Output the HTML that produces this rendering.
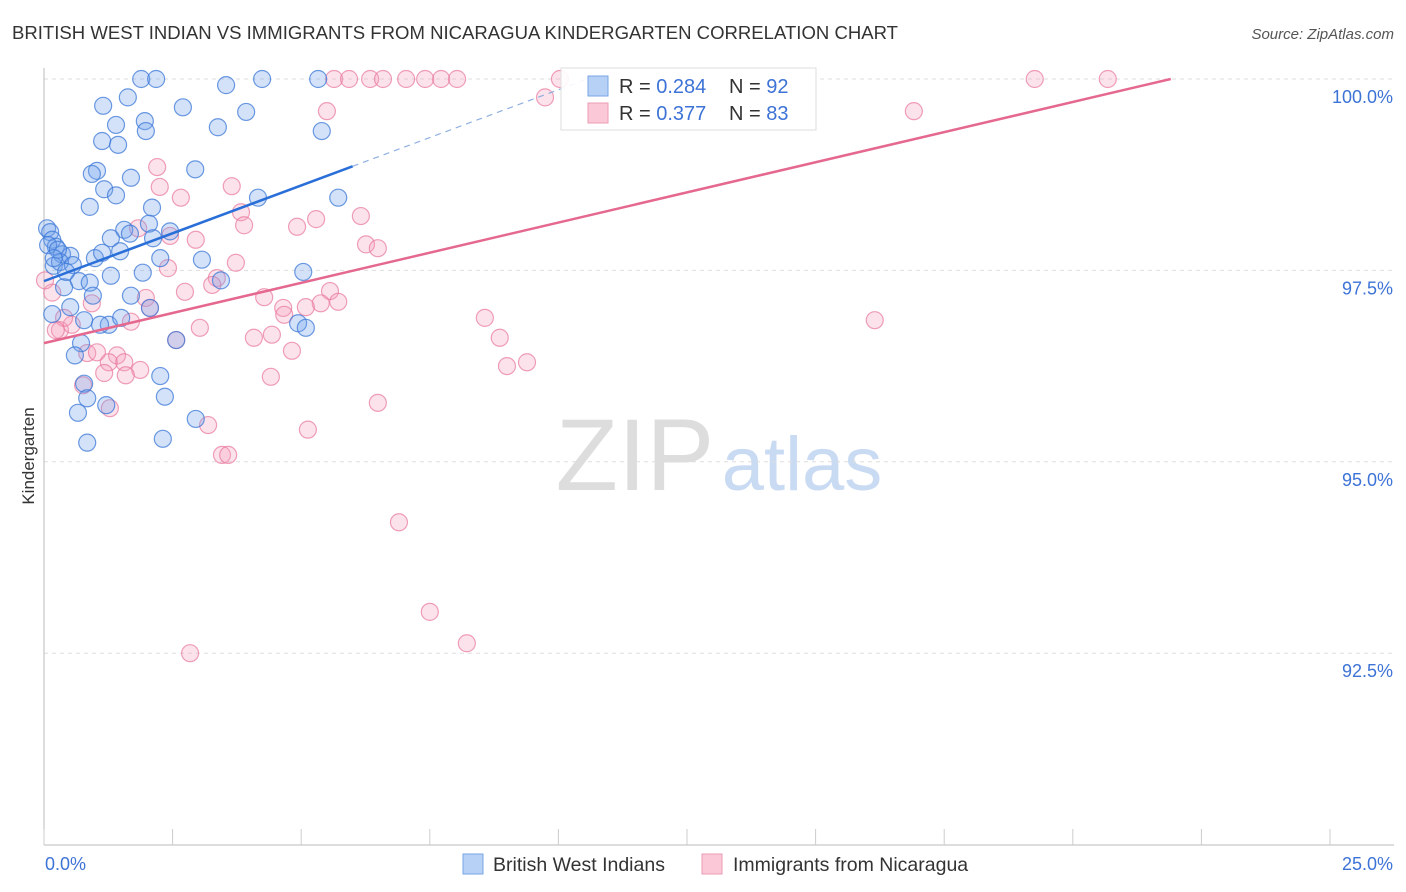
<!DOCTYPE html>
<html><head><meta charset="utf-8"><style>
body{margin:0;background:#fff;font-family:"Liberation Sans",sans-serif;}
#wrap{position:relative;width:1406px;height:892px;overflow:hidden;}
svg text{font-family:"Liberation Sans",sans-serif;}
</style></head><body>
<div id="wrap">
<svg id="chart" width="1406" height="892">
<text x="12" y="39" font-size="18.5" fill="#333" textLength="886" lengthAdjust="spacingAndGlyphs">BRITISH WEST INDIAN VS IMMIGRANTS FROM NICARAGUA KINDERGARTEN CORRELATION CHART</text>
<text x="1394" y="39" font-size="15" fill="#555" font-style="italic" text-anchor="end">Source: ZipAtlas.com</text>
<text x="0" y="0" transform="translate(34,456) rotate(-90)" font-size="17" fill="#333" text-anchor="middle">Kindergarten</text>
<g>
<text x="635" y="490" font-size="102" fill="#ddd" text-anchor="middle" font-family="Liberation Serif">ZIP</text>
<text x="802" y="490" font-size="76" fill="#c9daf3" text-anchor="middle">atlas</text>
</g>
<g id="grid"></g><g id="axes"></g><g id="marks"></g><g id="lines"></g>
<g>
<rect x="561" y="68" width="255" height="62" fill="#fff" fill-opacity="0.9" stroke="#ddd"/>
<rect x="588" y="76" width="20" height="20" fill="#b7d0f5" stroke="#7aa6e6"/>
<text x="619" y="93" font-size="20" fill="#333">R = <tspan fill="#3d73d6">0.284</tspan></text>
<text x="729" y="93" font-size="20" fill="#333">N = <tspan fill="#3d73d6">92</tspan></text>
<rect x="588" y="103" width="20" height="20" fill="#fbc8d7" stroke="#ee9cb5"/>
<text x="619" y="120" font-size="20" fill="#333">R = <tspan fill="#3d73d6">0.377</tspan></text>
<text x="729" y="120" font-size="20" fill="#333">N = <tspan fill="#3d73d6">83</tspan></text>
</g>
<g>
<rect x="463" y="854" width="20" height="20" fill="#b7d0f5" stroke="#7aa6e6"/>
<text x="493" y="871" font-size="19.5" fill="#333">British West Indians</text>
<rect x="702" y="854" width="20" height="20" fill="#fbc8d7" stroke="#ee9cb5"/>
<text x="733" y="871" font-size="19.5" fill="#333">Immigrants from Nicaragua</text>
</g>
</svg>
</div>
<script>
const blueX=[1.89,2.18,3.54,4.24,5.33,1.15,1.63,2.70,3.93,1.40,1.96,3.38,5.40,1.13,1.44,1.98,1.03,0.93,2.94,1.69,1.17,1.40,0.89,2.10,4.16,5.72,2.04,1.56,1.30,1.67,2.12,2.45,0.06,0.12,0.16,0.23,0.35,0.51,0.19,0.31,0.56,0.99,1.13,1.48,2.26,3.07,1.92,1.30,0.68,0.39,0.89,3.44,5.04,1.69,0.95,0.51,0.16,0.78,1.26,1.50,2.57,4.94,5.09,2.06,0.72,0.60,2.26,0.78,0.84,0.66,1.21,2.35,2.95,2.31,0.84,0.08,0.27,0.43,1.09,0.19];
const blueY=[100,100,99.92,100,100,99.65,99.76,99.63,99.57,99.40,99.45,99.37,99.32,99.19,99.14,99.32,98.80,98.76,98.82,98.71,98.56,98.48,98.33,98.32,98.45,98.45,98.11,98.03,97.92,97.98,97.92,98.01,98.05,98.00,97.90,97.81,97.71,97.69,97.56,97.61,97.57,97.66,97.73,97.75,97.66,97.64,97.47,97.43,97.36,97.28,97.34,97.37,97.48,97.17,97.17,97.02,96.93,96.85,96.79,96.88,96.59,96.81,96.75,97.01,96.55,96.39,96.12,96.02,95.83,95.64,95.74,95.85,95.56,95.30,95.25,97.83,97.77,97.48,96.79,97.66];
const pinkX=[5.64,5.93,6.34,6.59,7.04,7.41,7.72,8.03,10.03,19.26,20.68,9.74,5.50,16.91,2.20,2.25,3.65,2.66,3.83,6.16,5.29,4.92,3.89,1.83,2.45,2.95,6.26,6.49,2.41,3.73,2.74,1.98,4.28,5.56,5.72,5.38,5.09,4.65,3.36,3.27,4.67,0.93,0.16,0.31,0.54,0.39,8.57,16.15,8.86,4.08,4.43,3.03,1.69,2.57,0.84,1.03,1.42,1.26,1.56,1.87,1.59,1.17,4.82,9.00,9.39,4.41,0.76,1.28,6.49,3.19,5.13,3.46,3.58,6.90,7.50,8.22,2.84,2.06,0.23,0.02];
const pinkY=[100,100,100,100,100,100,100,100,100,100,100,99.76,99.58,99.58,98.85,98.59,98.60,98.45,98.26,98.21,98.17,98.07,98.09,98.05,97.95,97.90,97.84,97.79,97.53,97.60,97.22,97.14,97.15,97.23,97.09,97.07,97.02,97.01,97.40,97.31,96.92,97.07,97.21,96.72,96.79,96.88,96.88,96.85,96.62,96.62,96.66,96.75,96.83,96.59,96.42,96.43,96.39,96.30,96.30,96.20,96.13,96.16,96.45,96.25,96.30,96.11,96.00,95.70,95.77,95.48,95.42,95.09,95.09,94.21,93.04,92.63,92.50,97.01,96.72,97.37];
const blueTrend=[97.36,0.25];   // intercept, slope
const pinkTrend=[96.55,0.1575];
const yTicks=[100,97.5,95,92.5];
const yTickLabels=["100.0%","97.5%","95.0%","92.5%"];
const xTicks=[0,2.5,5,7.5,10,12.5,15,17.5,20,22.5,25];

const NS="http://www.w3.org/2000/svg";
const X0=44,XS=51.44,Y0=79,YS=76.56;
function sx(v){return X0+v*XS;}
function sy(v){return Y0+(100-v)*YS;}
function mk(tag,attrs,parent){const e=document.createElementNS(NS,tag);for(const k in attrs)e.setAttribute(k,attrs[k]);parent.appendChild(e);return e;}
const grid=document.getElementById('grid'),axes=document.getElementById('axes'),marks=document.getElementById('marks'),lines=document.getElementById('lines');
yTicks.forEach((t,i)=>{
  const l=mk('line',{x1:44,x2:1394,y1:sy(t),y2:sy(t),stroke:'#ddd','stroke-dasharray':'4,4'},grid);
  
  
  const tx=mk('text',{x:1393,y:sy(t)+24,'font-size':18,fill:'#3d73d6','text-anchor':'end'},axes);
  tx.textContent=yTickLabels[i];
  
  
});
const ya=mk('line',{x1:44,x2:44,y1:68,y2:845,stroke:'#bbb'},axes);


const xa=mk('line',{x1:44,x2:1394,y1:845,y2:845,stroke:'#bbb'},axes);


xTicks.forEach(t=>{
  const l=mk('line',{x1:sx(t),x2:sx(t),y1:829,y2:845,stroke:'#ccc'},axes);
  
  
});
const xl0=mk('text',{x:45,y:870,'font-size':18,fill:'#3d73d6'},axes);xl0.textContent='0.0%';


const xl1=mk('text',{x:1393,y:870,'font-size':18,fill:'#3d73d6','text-anchor':'end'},axes);xl1.textContent='25.0%';


function dots(xs,ys,fill,stroke,name){
  xs.forEach((x,i)=>{
    const c=mk('circle',{cx:sx(x),cy:sy(ys[i]),r:8.5,fill:fill,stroke:stroke,'stroke-width':1.2},marks);
    
    
  });
}
dots(pinkX,pinkY,'rgba(244,160,188,0.3)','rgba(232,120,155,0.7)','nicaragua-point');
dots(blueX,blueY,'rgba(110,160,235,0.3)','rgba(60,120,215,0.75)','british-west-indian-point');
const bEnd=6.0, bDash=(100-blueTrend[0])/blueTrend[1];
const bl=mk('line',{x1:sx(0),y1:sy(blueTrend[0]),x2:sx(bEnd),y2:sy(blueTrend[0]+blueTrend[1]*bEnd),stroke:'#2a6fd8','stroke-width':2.5},lines);


const bd=mk('line',{x1:sx(bEnd),y1:sy(blueTrend[0]+blueTrend[1]*bEnd),x2:sx(bDash),y2:sy(100),stroke:'#8fb0e0','stroke-width':1.2,'stroke-dasharray':'6,5'},lines);


const pEnd=(100-pinkTrend[0])/pinkTrend[1];
const pl=mk('line',{x1:sx(0),y1:sy(pinkTrend[0]),x2:sx(pEnd),y2:sy(100),stroke:'#e5688f','stroke-width':2.5},lines);


</script>
</body></html>
